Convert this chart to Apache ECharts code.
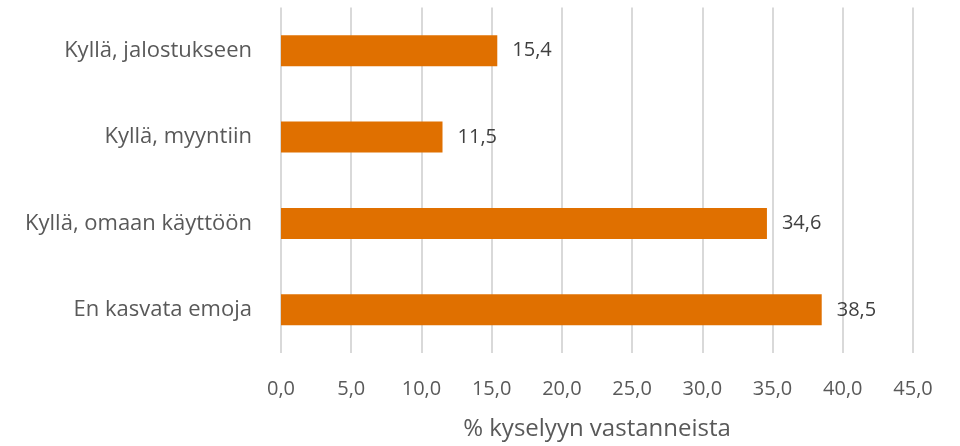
<!DOCTYPE html>
<html><head><meta charset="utf-8">
<script src="https://cdn.jsdelivr.net/npm/echarts@6/dist/echarts.min.js"></script>
<style>html,body{margin:0;padding:0;background:#fff}#c{width:960px;height:446px}</style>
</head><body><div id="c"></div>
<script>
const categories = ["En kasvata emoja", "Kyllä, omaan käyttöön", "Kyllä, myyntiin", "Kyllä, jalostukseen"];
const values = [38.5, 34.6, 11.5, 15.4];
const axisTitle = "% kyselyyn vastanneista";
const fmt = v => v.toFixed(1).replace('.', ',');
const chart = echarts.init(document.getElementById('c'));
chart.setOption({
  animation: false,
  grid: { left: 281, right: 47, top: 7.5, bottom: 90.5, containLabel: false },
  xAxis: {
    type: 'value', min: 0, max: 45, interval: 5,
    axisLine: { show: false }, axisTick: { show: false },
    splitLine: { lineStyle: { color: '#d9d9d9', width: 2 } },
    axisLabel: { formatter: v => fmt(v), color: '#595959', fontSize: 20, margin: 26, fontFamily: 'Open Sans' },
    name: axisTitle, nameLocation: 'middle', nameGap: 64,
    nameTextStyle: { color: '#595959', fontSize: 24, fontFamily: 'Open Sans' }
  },
  yAxis: {
    type: 'category', data: categories,
    axisLine: { show: false }, axisTick: { show: false },
    axisLabel: { color: '#595959', fontSize: 22, margin: 29, fontFamily: 'Open Sans' }
  },
  series: [{
    type: 'bar', data: values, barWidth: 31,
    itemStyle: { color: '#E07000' },
    label: { show: true, position: 'right', distance: 15, formatter: p => fmt(p.value), color: '#404040', fontSize: 20, fontFamily: 'Open Sans' }
  }]
});
</script></body></html>
